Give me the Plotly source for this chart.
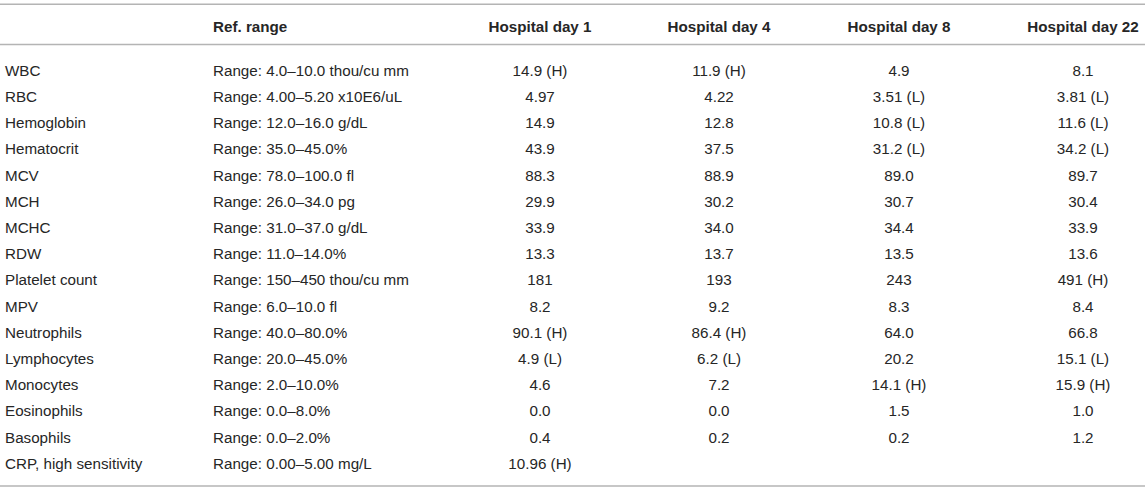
import plotly.graph_objects as go

# ---- table content ----
tests = ["WBC", "RBC", "Hemoglobin", "Hematocrit", "MCV", "MCH", "MCHC", "RDW",
         "Platelet count", "MPV", "Neutrophils", "Lymphocytes", "Monocytes",
         "Eosinophils", "Basophils", "CRP, high sensitivity"]
ref_ranges = ["Range: 4.0–10.0 thou/cu mm", "Range: 4.00–5.20 x10E6/uL",
              "Range: 12.0–16.0 g/dL", "Range: 35.0–45.0%", "Range: 78.0–100.0 fl",
              "Range: 26.0–34.0 pg", "Range: 31.0–37.0 g/dL", "Range: 11.0–14.0%",
              "Range: 150–450 thou/cu mm", "Range: 6.0–10.0 fl", "Range: 40.0–80.0%",
              "Range: 20.0–45.0%", "Range: 2.0–10.0%", "Range: 0.0–8.0%",
              "Range: 0.0–2.0%", "Range: 0.00–5.00 mg/L"]
day1 = ["14.9 (H)", "4.97", "14.9", "43.9", "88.3", "29.9", "33.9", "13.3",
        "181", "8.2", "90.1 (H)", "4.9 (L)", "4.6", "0.0", "0.4", "10.96 (H)"]
day4 = ["11.9 (H)", "4.22", "12.8", "37.5", "88.9", "30.2", "34.0", "13.7",
        "193", "9.2", "86.4 (H)", "6.2 (L)", "7.2", "0.0", "0.2", ""]
day8 = ["4.9", "3.51 (L)", "10.8 (L)", "31.2 (L)", "89.0", "30.7", "34.4", "13.5",
        "243", "8.3", "64.0", "20.2", "14.1 (H)", "1.5", "0.2", ""]
day22 = ["8.1", "3.81 (L)", "11.6 (L)", "34.2 (L)", "89.7", "30.4", "33.9", "13.6",
         "491 (H)", "8.4", "66.8", "15.1 (L)", "15.9 (H)", "1.0", "1.2", ""]
headers = ["", "Ref. range", "Hospital day 1", "Hospital day 4",
           "Hospital day 8", "Hospital day 22"]

W, H = 1145, 489
TEXT = "#262626"
RULE = "#b4b4b4"
FONT = "Liberation Sans, Arial, sans-serif"
SIZE = 15.2

# column anchors (x in pixels) and row geometry
col_x = [5, 213, 540, 719, 899, 1083]
row0, row_h = 72, 26.2
rows = list(range(len(tests)))
row_y = [row0 + row_h * i for i in rows]

fig = go.Figure()

columns = [tests, ref_ranges, day1, day4, day8, day22]
for j, col in enumerate(columns):
    fig.add_trace(go.Scatter(
        x=[col_x[j]] * len(col),
        y=row_y,
        mode="text",
        text=col,
        textposition="middle right" if j < 2 else "middle center",
        textfont=dict(family=FONT, size=SIZE, color=TEXT),
        hoverinfo="skip",
        showlegend=False,
    ))

# header row
fig.add_trace(go.Scatter(
    x=col_x[1:],
    y=[27.8] * (len(headers) - 1),
    mode="text",
    text=["<b>%s</b>" % h for h in headers[1:]],
    textposition=["middle right"] + ["middle center"] * 4,
    textfont=dict(family=FONT, size=SIZE, color=TEXT),
    hoverinfo="skip",
    showlegend=False,
))

# horizontal rules
for y in [4.3, 44.5, 486]:
    fig.add_shape(type="line", xref="x", yref="y", x0=0, x1=W, y0=y, y1=y,
                  line=dict(color=RULE, width=1.5))

fig.update_layout(
    width=W,
    height=H,
    margin=dict(l=0, r=0, t=0, b=0),
    paper_bgcolor="white",
    plot_bgcolor="white",
    xaxis=dict(range=[0, W], visible=False, fixedrange=True),
    yaxis=dict(range=[H, 0], visible=False, fixedrange=True),
)

# drop the browser's default page margin so the figure sits at 0,0
fig.write_html("out.html", config={"displayModeBar": False},
               post_script="document.body.style.margin='0';")
